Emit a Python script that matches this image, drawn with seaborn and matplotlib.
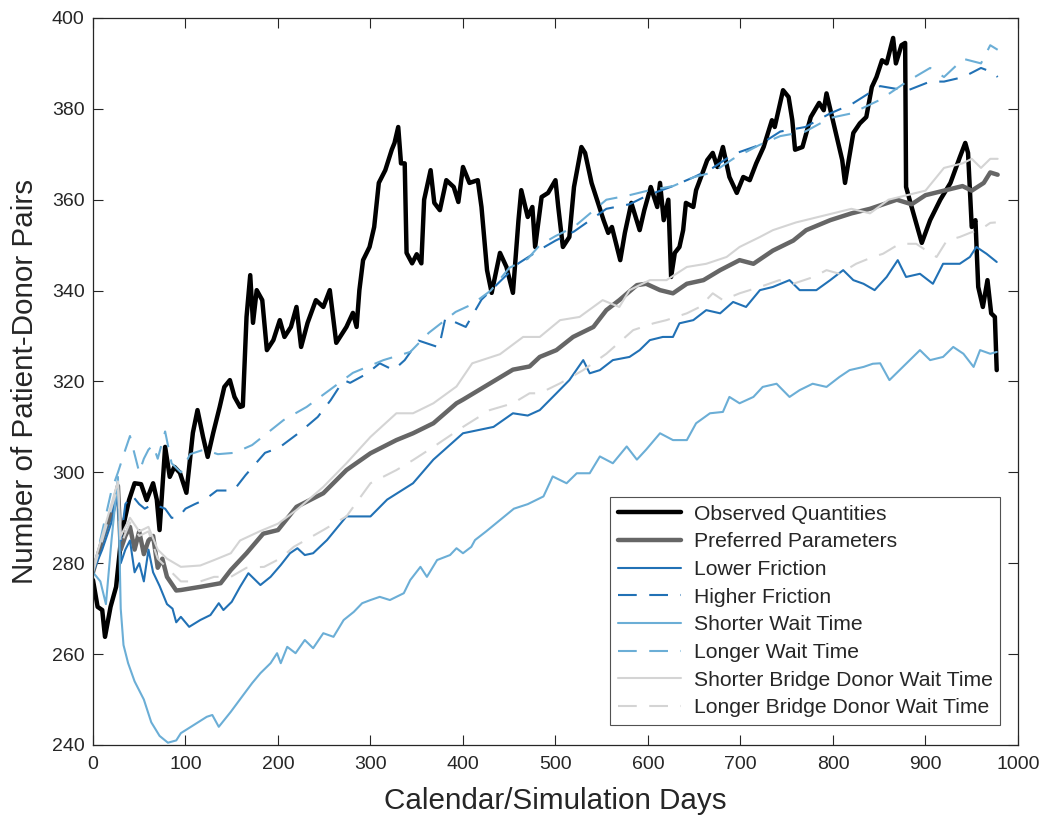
import matplotlib
matplotlib.use("Agg")
import matplotlib.pyplot as plt
import seaborn as sns
import pandas as pd

# Observed quantities (black, thick)
obs_days = [0, 5, 10, 13, 19, 25, 31, 39, 45, 52, 58, 65, 69, 72, 78, 83, 88, 94,
            101, 108, 113, 119, 124, 130, 137, 142, 148, 153, 159, 162, 166, 170, 173, 177,
            183, 188, 195, 202, 207, 214, 220, 225, 232, 241, 249, 256, 263, 274, 281, 285,
            288, 292, 299, 304, 309, 316, 323, 326, 330, 333, 337, 339, 345, 350, 355, 358,
            365, 369, 375, 382, 390, 395, 400, 407, 416, 420, 426, 431, 440, 447, 454, 460,
            463, 470, 475, 478, 485, 492, 500, 503, 508, 515, 520, 528, 532, 539, 546, 552,
            557, 561, 570, 575, 582, 591, 596, 603, 610, 613, 617, 622, 625, 629, 634, 638,
            641, 649, 652, 659, 664, 670, 675, 681, 688, 696, 703, 710, 717, 725, 734, 737,
            746, 752, 756, 759, 767, 776, 785, 790, 793, 799, 804, 810, 813, 817, 822, 829,
            836, 842, 847, 853, 858, 865, 868, 874, 878, 879, 885, 896, 905, 916, 927, 937,
            943, 946, 950, 954, 957, 962, 967, 971, 975, 977]
obs_vals = [276.3, 270.4, 269.7, 263.8, 270.4, 274.8, 286.6, 293.9, 297.6, 297.4, 293.9, 297.6, 294.0, 287.3, 305.6, 299.0, 301.2, 299.9,
            295.5, 308.7, 313.7, 307.8, 303.4, 308.7, 314.4, 318.8, 320.3, 316.6, 314.4, 314.6, 334.2, 343.4, 332.9, 340.1,
            337.9, 326.9, 329.1, 333.5, 329.8, 332.0, 336.4, 327.6, 332.9, 337.9, 336.4, 340.1, 328.5, 332.0, 335.1, 332.0,
            340.1, 346.7, 349.6, 354.0, 363.7, 366.5, 371.0, 372.5, 376.0, 368.0, 368.0, 348.3, 346.0, 348.0, 346.0, 360.0,
            366.5, 359.3, 357.7, 364.3, 362.8, 359.5, 367.2, 363.7, 364.3, 358.4, 344.5, 339.5, 348.3, 345.2, 339.5, 355.5,
            362.1, 356.2, 358.4, 349.6, 360.6, 361.5, 364.3, 358.4, 349.6, 351.8, 362.8, 371.6, 370.3, 363.7, 359.3, 355.5,
            352.7, 354.0, 346.7, 352.7, 359.3, 353.3, 357.7, 362.8, 358.4, 363.7, 355.5, 360.0, 343.0, 348.3, 349.6, 353.3,
            359.3, 358.4, 362.1, 365.9, 368.7, 370.3, 367.2, 371.6, 365.0, 361.5, 365.0, 364.3, 368.0, 371.6, 377.5, 376.0,
            384.1, 382.6, 377.5, 371.0, 371.6, 378.2, 381.3, 379.7, 383.4, 378.2, 373.8, 368.7, 363.7, 368.7, 374.7, 376.8,
            378.2, 384.8, 387.0, 390.7, 390.0, 395.6, 390.0, 394.0, 394.5, 362.8, 358.4, 350.5, 355.5, 360.0, 363.7, 369.3,
            372.5, 370.3, 354.0, 355.5, 340.8, 336.4, 342.3, 335.0, 334.2, 322.5]

# Preferred parameters (dark grey, thick)
pref_days = [0, 10, 20, 27, 30, 35, 40, 45, 50, 55, 60, 65, 70, 75, 80, 90, 95, 116, 138,
             149, 166, 184, 200, 220, 249, 274, 300, 328, 346, 368, 393, 400, 418, 454, 472,
             483, 501, 519, 541, 555, 569, 588, 598, 613, 627, 642, 660, 678, 699, 714, 735,
             757, 771, 797, 820, 840, 869, 885, 900, 920, 940, 950, 963, 970, 978]
pref_vals = [278, 285, 291, 297, 283, 286, 288, 283, 287, 282, 285, 286, 279, 281, 277, 274, 274.1, 274.8, 275.6,
             278.5, 282.2, 286.5, 287.3, 292.4, 295.4, 300.5, 304.2, 307.1, 308.6, 310.8, 315.2, 316, 318.2, 322.6, 323.3,
             325.4, 326.9, 329.8, 332, 335.7, 337.9, 341.2, 341.5, 340.1, 339.4, 341.5, 342.3, 344.5, 346.7, 345.9, 348.8,
             351, 353.3, 355.5, 357, 358, 360, 359, 361, 362, 363, 362, 363.7, 366, 365.5]

# Lower friction (dark blue, solid)
lowf_days = [0, 10, 20, 27, 30, 35, 40, 45, 50, 55, 60, 65, 72, 80, 86, 90, 95, 104, 116,
             127, 136, 141, 150, 159, 168, 181, 192, 203, 213, 221, 229, 238, 253, 274, 300,
             318, 346, 368, 400, 433, 454, 470, 483, 501, 515, 530, 537, 548, 562, 580, 591,
             602, 616, 627, 634, 649, 663, 678, 692, 706, 721, 735, 753, 764, 782, 797, 811,
             822, 833, 845, 858, 870, 879, 894, 908, 919, 937, 948, 955, 966, 977]
lowf_vals = [278, 283, 289, 295, 280, 283, 285, 278, 280, 276, 283, 278, 275, 271, 270, 267, 268.2, 266, 267.5,
             268.6, 271.2, 269.7, 271.5, 274.8, 277.8, 275.2, 277, 279.6, 282.2, 283.3, 281.8, 282.2, 285.1, 290.3, 290.3,
             294, 297.6, 302.8, 308.6, 310, 313, 312.5, 313.7, 317.4, 320.3, 324.7, 321.8, 322.5, 324.7, 325.4, 326.9,
             329.1, 329.8, 329.8, 332.8, 333.5, 335.7, 335, 337.5, 336.4, 340.1, 340.8, 342.3, 340.1, 340.1, 342.3, 344.5,
             342.3, 341.5, 340.1, 343, 346.7, 343, 343.7, 341.5, 345.9, 345.9, 347.4, 349.6, 348.1, 346.3]

# Higher friction (dark blue, dashed)
highf_days = [0, 10, 20, 27, 30, 35, 42, 50, 56, 65, 78, 85, 92, 100, 110, 121, 134, 152,
              165, 186, 201, 224, 243, 257, 271, 278, 296, 310, 325, 337, 352, 374, 381, 403,
              420, 440, 460, 483, 500, 520, 555, 580, 600, 627, 650, 670, 692, 720, 743, 770,
              797, 820, 851, 880, 905, 920, 941, 960, 973, 978]
highf_vals = [278, 285, 291, 296, 285, 293, 295, 293, 292, 293, 292, 290, 290, 292, 293, 294, 296, 296,
              299.4, 304.3, 305.4, 308.9, 312.2, 315.9, 320.3, 319.7, 321.7, 324, 322.5, 324.7, 329, 327.5, 334, 332,
              338, 342, 346, 349, 351, 353, 358, 359, 361, 363, 365, 367, 370, 372, 375, 376,
              379, 381, 385, 384, 386, 386, 387, 389, 388, 387]

# Shorter wait time (light blue, solid)
shortw_days = [0, 8, 14, 20, 27, 30, 33, 38, 45, 55, 63, 72, 81, 90, 95, 109, 123, 129, 136,
               149, 161, 172, 181, 192, 199, 203, 210, 219, 229, 238, 249, 260, 271, 282, 291,
               300, 310, 321, 336, 343, 354, 361, 372, 386, 393, 400, 409, 413, 425, 440, 455,
               470, 487, 497, 512, 523, 537, 548, 562, 577, 588, 598, 613, 627, 642, 652, 667,
               681, 688, 699, 714, 724, 739, 753, 764, 778, 793, 807, 818, 833, 843, 851, 861,
               872, 883, 894, 905, 919, 930, 941, 952, 959, 970, 977]
shortw_vals = [278, 276, 271, 285, 299, 270, 262, 258, 254, 250, 245, 242, 240.5, 241, 242.6, 244.4, 246.2, 246.6, 244,
               247.3, 250.6, 253.6, 255.8, 258, 260.2, 258, 261.6, 260.2, 263.1, 261.3, 264.6, 263.8, 267.5, 269.3, 271.2,
               271.9, 272.6, 271.9, 273.4, 276.3, 279.2, 277, 280.7, 281.8, 283.3, 282.2, 283.6, 285.1, 287, 289.5, 292,
               293, 294.7, 299.1, 297.6, 299.8, 299.8, 303.5, 302, 305.7, 302.8, 305, 308.6, 307.1, 307.1, 310.8, 313,
               313.3, 316.6, 315.2, 316.6, 318.8, 319.5, 316.6, 318.1, 319.5, 318.8, 321, 322.5, 323.2, 323.9, 324, 320.3,
               322.5, 324.7, 326.9, 324.7, 325.4, 327.6, 326.1, 323.2, 326.9, 326.1, 326.5]

# Longer wait time (light blue, dashed)
longw_days = [0, 10, 20, 27, 35, 40, 45, 50, 55, 60, 65, 70, 78, 85, 95, 105, 120, 135,
              153, 172, 190, 206, 231, 253, 281, 314, 343, 363, 392, 410, 430, 450, 470, 483,
              500, 520, 555, 580, 600, 627, 650, 670, 692, 720, 743, 770, 797, 820, 851, 880,
              905, 920, 941, 960, 970, 978]
longw_vals = [278, 287, 296, 300, 305, 308, 304, 300, 303, 305, 306, 303, 309, 302, 300, 304, 305, 304,
              304.3, 306, 308.9, 311.5, 314.4, 317.7, 321.9, 324.7, 326.5, 330.7, 335.3, 337, 340, 345, 347, 350,
              352, 354, 360, 361, 362, 363, 365, 366, 369, 372, 374, 375, 378, 379, 382, 386,
              389, 387, 391, 390, 394, 393]

# Shorter bridge donor wait time (light grey, solid)
shortb_days = [0, 27, 30, 40, 50, 60, 70, 80, 95, 116, 131, 149, 159, 180, 200, 220, 249,
               274, 300, 328, 346, 368, 393, 410, 440, 465, 483, 505, 526, 551, 569, 580, 602,
               620, 642, 663, 685, 699, 721, 735, 760, 780, 800, 820, 840, 860, 880, 900, 920,
               940, 950, 960, 970, 978]
shortb_vals = [279, 298, 286, 290, 287, 288, 283, 281, 279.2, 279.5, 280.7, 282.2, 285, 287, 288.7, 291.7, 296.8,
               302, 307.8, 313, 313, 315.2, 318.9, 324, 326, 329.8, 329.8, 333.5, 334.2, 337.9, 336.4, 340.1, 342.3,
               342.3, 345.2, 345.9, 347.4, 349.6, 351.8, 353.3, 355, 356, 357, 358, 357, 360, 361, 362, 367,
               368, 369, 367, 369, 369]

# Longer bridge donor wait time (light grey, dashed)
longb_days = [0, 27, 30, 40, 50, 60, 70, 80, 95, 116, 131, 149, 166, 185, 203, 217, 249,
              274, 300, 328, 346, 368, 400, 429, 454, 472, 483, 505, 530, 555, 584, 606, 620,
              642, 656, 670, 681, 699, 721, 742, 757, 779, 793, 807, 825, 843, 854, 872, 890,
              901, 912, 923, 937, 948, 960, 970, 976]
longb_vals = [278, 297, 284, 289, 286, 287, 281, 279, 276, 276, 277, 277, 279, 279.2, 281.1, 283.6, 287.3,
              290.3, 297.6, 300.5, 302.7, 305.6, 310, 313.7, 315.2, 317.4, 317.4, 319.6, 322.5, 326.1, 331.3, 332.8, 333.5,
              335, 336.4, 339.4, 337.9, 339.4, 340.8, 342.3, 341.5, 343, 344.5, 343.7, 345.9, 347.4, 348.1, 350.3, 350.3,
              348.8, 347.4, 351, 351.8, 352.7, 353.5, 354.9, 355]

labels = ["Observed Quantities", "Preferred Parameters", "Lower Friction", "Higher Friction",
          "Shorter Wait Time", "Longer Wait Time", "Shorter Bridge Donor Wait Time",
          "Longer Bridge Donor Wait Time"]
all_days = [obs_days, pref_days, lowf_days, highf_days, shortw_days, longw_days, shortb_days, longb_days]
all_vals = [obs_vals, pref_vals, lowf_vals, highf_vals, shortw_vals, longw_vals, shortb_vals, longb_vals]

dark_blue = "#2171b5"
light_blue = "#6baed6"
dash = (0, (9, 6))
styles = [
    dict(color="black", lw=3.2, ls="-"),
    dict(color="#666666", lw=3.2, ls="-"),
    dict(color=dark_blue, lw=1.5, ls="-"),
    dict(color=dark_blue, lw=1.5, ls=dash),
    dict(color=light_blue, lw=1.5, ls="-"),
    dict(color=light_blue, lw=1.5, ls=dash),
    dict(color="#d4d4d4", lw=1.5, ls="-"),
    dict(color="#d4d4d4", lw=1.5, ls=dash),
]

sns.set_style("ticks")
plt.rcParams["font.family"] = ["Liberation Sans", "DejaVu Sans"]

fig = plt.figure(figsize=(10.47, 8.24), dpi=100)
ax = fig.add_axes([0.0888, 0.0959, 0.8835, 0.8823])

for lab, d, v, st in zip(labels, all_days, all_vals, styles):
    df = pd.DataFrame({"day": d, "pairs": v})
    sns.lineplot(data=df, x="day", y="pairs", ax=ax, color=st["color"], linewidth=st["lw"],
                 linestyle=st["ls"], label=lab, estimator=None, sort=False)

ax.set_xlim(0, 1000)
ax.set_ylim(240, 400)
ax.set_xticks(range(0, 1001, 100))
ax.set_yticks(range(240, 401, 20))
ax.set_xlabel("Calendar/Simulation Days", fontsize=21.3, color="#262626", labelpad=10)
ax.set_ylabel("Number of Patient-Donor Pairs", fontsize=21.3, color="#262626", labelpad=9)
ax.tick_params(direction="in", length=7, width=0.8, top=True, right=True,
               labelsize=14, colors="#262626")
ax.tick_params(axis="x", pad=8)
ax.tick_params(axis="y", pad=6)
for sp in ax.spines.values():
    sp.set_visible(True)
    sp.set_color("#262626")
    sp.set_linewidth(0.9)

leg = ax.legend(loc="lower right", bbox_to_anchor=(0.981, 0.027), fontsize=15.2,
                frameon=True, fancybox=False, handlelength=3.0, labelspacing=0.41,
                borderpad=0.38, handletextpad=0.6, borderaxespad=0)
leg.get_frame().set_edgecolor("#262626")
leg.get_frame().set_linewidth(0.8)

fig.savefig("out.png", dpi=100)
